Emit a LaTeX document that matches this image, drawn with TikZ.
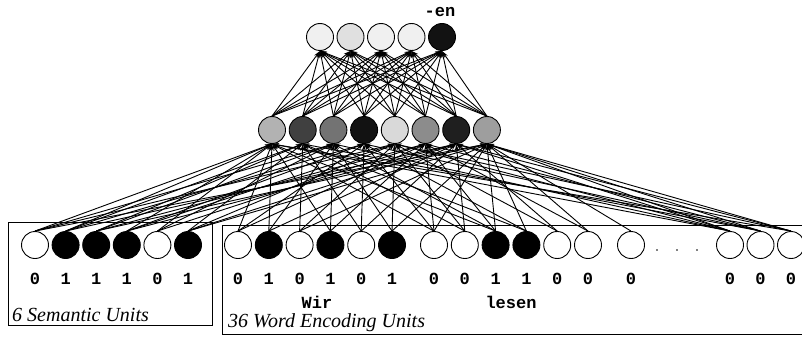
\documentclass[tikz,border=0pt]{standalone}
\usepackage{fontspec}
\setmainfont{Liberation Serif}
\setmonofont{Liberation Mono}
\usetikzlibrary{arrows.meta}
\begin{document}
\begin{tikzpicture}[x=1pt,y=-1pt,
  unit/.style={circle,draw=black,line width=0.9pt,minimum size=27pt,inner sep=0pt},
  bit/.style={font=\ttfamily\bfseries\fontsize{17}{17}\selectfont,inner sep=0pt},
  caption/.style={font=\itshape\fontsize{20}{20}\selectfont,inner sep=0pt,anchor=base west},
  conn/.style={line width=0.9pt,-{Stealth[length=7pt,width=4pt]}},
  frame/.style={draw=black,line width=1pt}]
\useasboundingbox (0,0) rectangle (802,337);
\clip (0,0) rectangle (802,337);

% input groups
\draw[frame] (8,222) rectangle (212,325);
\draw[frame] (222,225) rectangle (810,334);
\node[caption] (capsem) at (12,321) {6 Semantic Units};
\node[caption] (capword) at (228,327) {36 Word Encoding Units};

% semantic units
\foreach \i/\v in {1/0,2/1,3/1,4/1,5/0,6/1} {
  \pgfmathsetmacro{\xx}{35+30.6*(\i-1)}
  \ifnum\v=1 \def\fc{black}\else\def\fc{white}\fi
  \node[unit,fill=\fc] (s\i) at (\xx,245) {};
  \node[bit] (sb\i) at (\xx,279) {\v};
}

% word encoding units
\foreach \i/\xx/\v in {1/238/0,2/268.8/1,3/299.6/0,4/330.4/1,5/361.2/0,6/392/1,
    7/434/0,8/464.8/0,9/495.6/1,10/526.4/1,11/557.2/0,12/588/0,
    13/631/0,14/730/0,15/760.5/0,16/791/0} {
  \ifnum\v=1 \def\fc{black}\else\def\fc{white}\fi
  \node[unit,fill=\fc] (w\i) at (\xx,245) {};
  \node[bit] (wb\i) at (\xx,279) {\v};
}
\foreach \xx [count=\k] in {657,677,697}
  \fill (\xx,250) circle (0.9pt) coordinate (dot\k);
\node[bit] (wir) at (317,302) {Wir};
\node[bit] (lesen) at (511,302) {lesen};

% hidden units (grey level = activation)
\foreach \i/\g in {1/30,2/75,3/55,4/93,5/15,6/45,7/88,8/38} {
  \pgfmathsetmacro{\xx}{272+30.7*(\i-1)}
  \node[unit,fill=black!\g] (h\i) at (\xx,130) {};
}

% output units
\foreach \i/\g in {1/6,2/12,3/6,4/6,5/93} {
  \pgfmathsetmacro{\xx}{320+30.5*(\i-1)}
  \node[unit,fill=black!\g] (o\i) at (\xx,37) {};
}
\node[bit] (en) at (440,12) {-en};

% input -> hidden connections
\foreach \s/\hs in {1/{1,3,5,8},2/{1,2,4,7},3/{2,3,6,8},4/{1,4,5,7},5/{1,3,6},6/{2,5,7,8}}
  \foreach \h in \hs
    \draw[conn] (s\s.north) -- (h\h.south);
\foreach \w/\hs in {1/{1,4,6},2/{1,3,7},3/{2,5,8},4/{1,3,6},5/{2,4,7},6/{3,5,8},
    7/{1,4,6,8},8/{2,5,7},9/{1,3,6,8},10/{2,4,8},11/{5,7},12/{6,8},13/{8},
    14/{1,3,5,7,8},15/{2,4,6,8},16/{1,5,7,8}}
  \foreach \h in \hs
    \draw[conn] (w\w.north) -- (h\h.south);

% hidden -> output connections
\foreach \h in {1,...,8}
  \foreach \o in {1,...,5}
    \draw[conn] (h\h.north) -- (o\o.south);
\end{tikzpicture}
\end{document}
